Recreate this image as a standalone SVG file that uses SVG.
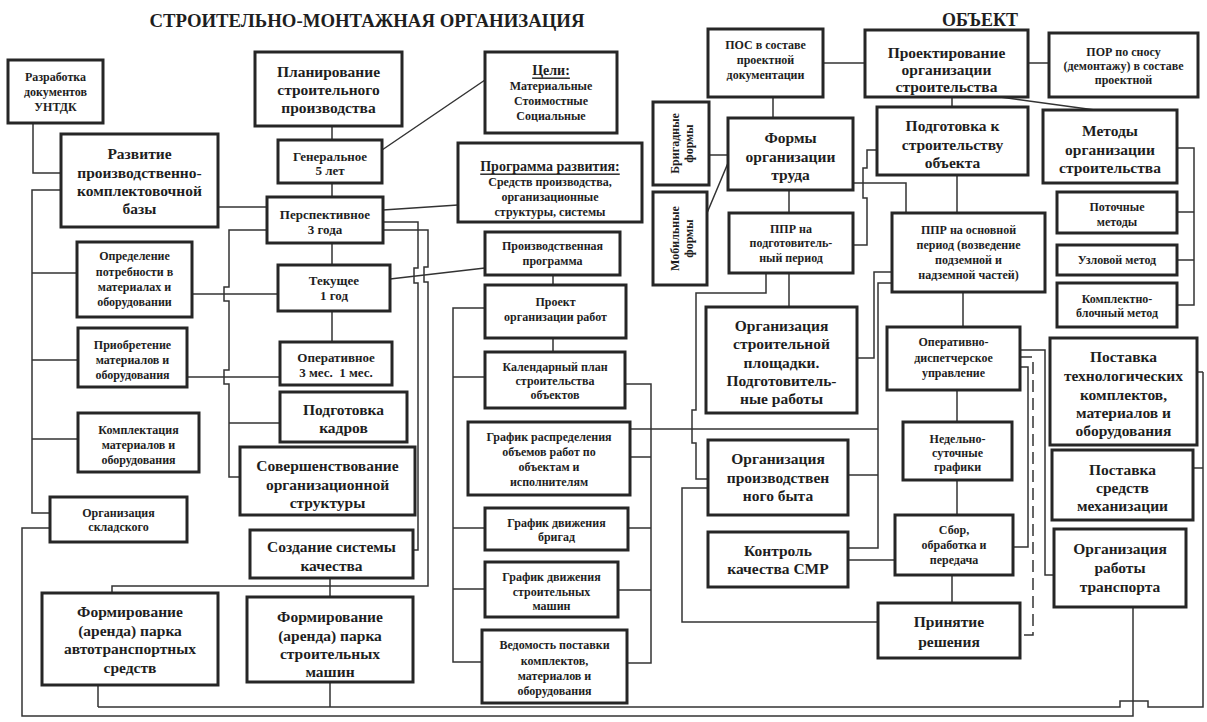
<svg xmlns="http://www.w3.org/2000/svg" width="1207" height="722" viewBox="0 0 1207 722">
<style>
.b{fill:#fff;stroke:#262626;stroke-width:3}
.c{fill:none;stroke:#333;stroke-width:1.5}
.d{fill:none;stroke:#333;stroke-width:1.5;stroke-dasharray:12 6}
text{font-family:"Liberation Serif","DejaVu Serif",serif;font-weight:bold;fill:#1e1e1e;text-anchor:middle;dominant-baseline:central}
.s{font-size:12px}
.m{font-size:13px}
.l{font-size:15.5px}
.h{font-size:18px}
.u{font-size:14px;text-decoration:underline}
</style>
<rect width="1207" height="722" fill="#fff"/>
<text class="h" x="367" y="21" textLength="435" lengthAdjust="spacingAndGlyphs">СТРОИТЕЛЬНО-МОНТАЖНАЯ ОРГАНИЗАЦИЯ</text>
<text class="h" x="980" y="20" textLength="76" lengthAdjust="spacingAndGlyphs">ОБЪЕКТ</text>
<g id="connectors">
<path class="c" d="M33,123V173H61"/>
<path class="c" d="M61,190H32V513H50"/>
<path class="c" d="M32,273H77M32,360H78M32,439H78"/>
<path class="c" d="M218,207H267"/>
<path class="c" d="M192,294H278M187,377H280"/>
<path class="c" d="M267,230H229V287H224V301H229V370H224V384H229V477H240M229,423H280"/>
<path class="c" d="M332,126V140M332,183V197M332,243V265M332,311V342"/>
<path class="c" d="M382,150L485,80M383,210L458,205M390,279L485,268"/>
<path class="c" d="M553,275V285M553,338V352"/>
<path class="c" d="M383,222H418V268H414V283H418V550H413"/>
<path class="c" d="M383,230H428V267H424V282H428V586H112V593"/>
<path class="c" d="M330,578V597M330,682V707M98,685V707"/>
<path class="c" d="M485,308H453V662H482M453,377H485M453,528H485M453,589H485"/>
<path class="c" d="M625,384H651V663H627M630,457H651M628,528H651M618,590H651"/>
<path class="c" d="M630,429H878"/>
<path class="c" d="M823,63H865M1028,63H1049M773,97V118M709,155H728M707,213L728,163M789,190V213"/>
<path class="c" d="M853,183H906V213"/>
<path class="c" d="M853,245H867V198H863V168H867V150H877"/>
<path class="c" d="M952,97V107M1000,97L1095,110"/>
<path class="c" d="M1177,148H1194V305H1177M1177,212H1194M1177,260H1194"/>
<path class="c" d="M957,175V213M963,292V327M957,390V422M957,480V515M952,575V603"/>
<path class="c" d="M789,273V307"/>
<path class="c" d="M766,273V293H696V410H692V443H696V479H708"/>
<path class="c" d="M857,358H874V272H892"/>
<path class="c" d="M892,283H878V548H848M848,475H878"/>
<path class="c" d="M848,560H895"/>
<path class="c" d="M708,488H682V622H878"/>
<path class="c" d="M1020,350H1045V575H1054"/>
<path class="c" d="M1020,367H1028V547H1013"/>
<path class="d" d="M1020,357H1033V635H1020"/>
<path class="c" d="M1197,372H1203M1193,468H1203"/>
<path class="c" d="M1203,372V707H1148V701H1120V707H98"/>
<path class="c" d="M1133,607V716H22V528H50"/>
</g>
<g id="n-untdk"><rect class="b" x="8" y="60" width="95" height="63"/><text class="s" x="55.5" y="77">Разработка</text><text class="s" x="55.5" y="92">документов</text><text class="s" x="55.5" y="107">УНТДК</text></g>
<g id="n-razvitie"><rect class="b" x="61" y="134" width="157" height="93"/><text class="l" x="139.5" y="153">Развитие</text><text class="l" x="139.5" y="172">производственно-</text><text class="l" x="139.5" y="190">комплектовочной</text><text class="l" x="139.5" y="208">базы</text></g>
<g id="n-opred"><rect class="b" x="77" y="242" width="115" height="75"/><text class="s" x="134.5" y="256">Определение</text><text class="s" x="134.5" y="272">потребности в</text><text class="s" x="134.5" y="287">материалах и</text><text class="s" x="134.5" y="302">оборудовании</text></g>
<g id="n-priobr"><rect class="b" x="78" y="328" width="109" height="59"/><text class="s" x="132.5" y="345">Приобретение</text><text class="s" x="132.5" y="360">материалов и</text><text class="s" x="132.5" y="375">оборудования</text></g>
<g id="n-komplekt"><rect class="b" x="78" y="413" width="121" height="59"/><text class="s" x="138.5" y="430">Комплектация</text><text class="s" x="138.5" y="445">материалов и</text><text class="s" x="138.5" y="460">оборудования</text></g>
<g id="n-sklad"><rect class="b" x="50" y="497" width="137" height="45"/><text class="s" x="118.5" y="513">Организация</text><text class="s" x="118.5" y="527">складского</text></g>
<g id="n-avto"><rect class="b" x="42" y="593" width="176" height="92"/><text class="l" x="130" y="611">Формирование</text><text class="l" x="130" y="630">(аренда) парка</text><text class="l" x="130" y="648">автотранспортных</text><text class="l" x="130" y="667">средств</text></g>
<g id="n-plan"><rect class="b" x="255" y="52" width="147" height="74"/><text class="l" x="328.5" y="71">Планирование</text><text class="l" x="328.5" y="89">строительного</text><text class="l" x="328.5" y="107">производства</text></g>
<g id="n-gen"><rect class="b" x="278" y="140" width="104" height="43"/><text class="m" x="330" y="156">Генеральное</text><text class="m" x="330" y="170">5 лет</text></g>
<g id="n-persp"><rect class="b" x="267" y="197" width="116" height="46"/><text class="m" x="325" y="214">Перспективное</text><text class="m" x="325" y="229">3 года</text></g>
<g id="n-tek"><rect class="b" x="278" y="265" width="112" height="46"/><text class="m" x="334" y="280">Текущее</text><text class="m" x="334" y="295">1 год</text></g>
<g id="n-oper"><rect class="b" x="280" y="342" width="112" height="43"/><text class="m" x="336" y="357">Оперативное</text><text class="m" x="336" y="372" xml:space="preserve">3 мес.  1 мес.</text></g>
<g id="n-kadry"><rect class="b" x="280" y="392" width="127" height="50"/><text class="l" x="343.5" y="409">Подготовка</text><text class="l" x="343.5" y="427">кадров</text></g>
<g id="n-soversh"><rect class="b" x="240" y="447" width="175" height="68"/><text class="l" x="327.5" y="465">Совершенствование</text><text class="l" x="327.5" y="484">организационной</text><text class="l" x="327.5" y="502">структуры</text></g>
<g id="n-kach"><rect class="b" x="250" y="530" width="163" height="48"/><text class="l" x="331.5" y="546">Создание системы</text><text class="l" x="331.5" y="565">качества</text></g>
<g id="n-mash"><rect class="b" x="247" y="597" width="166" height="85"/><text class="l" x="330" y="616">Формирование</text><text class="l" x="330" y="635">(аренда) парка</text><text class="l" x="330" y="653">строительных</text><text class="l" x="330" y="671">машин</text></g>
<g id="n-celi"><rect class="b" x="485" y="52" width="132" height="81"/><text class="u" x="551" y="70">Цели:</text><text class="s" x="551" y="86">Материальные</text><text class="s" x="551" y="101">Стоимостные</text><text class="s" x="551" y="116">Социальные</text></g>
<g id="n-prog"><rect class="b" x="458" y="143" width="184" height="79"/><text class="u" x="550" y="166">Программа развития:</text><text class="s" x="550" y="182">Средств производства,</text><text class="s" x="550" y="197">организационные</text><text class="s" x="550" y="212">структуры, системы</text></g>
<g id="n-proizv"><rect class="b" x="485" y="232" width="135" height="43"/><text class="s" x="552.5" y="246">Производственная</text><text class="s" x="552.5" y="261">программа</text></g>
<g id="n-proekt"><rect class="b" x="485" y="285" width="141" height="53"/><text class="s" x="555.5" y="302">Проект</text><text class="s" x="555.5" y="317">организации работ</text></g>
<g id="n-kalend"><rect class="b" x="485" y="352" width="140" height="56"/><text class="s" x="555" y="367">Календарный план</text><text class="s" x="555" y="381">строительства</text><text class="s" x="555" y="395">объектов</text></g>
<g id="n-raspr"><rect class="b" x="468" y="422" width="162" height="73"/><text class="s" x="549" y="437">График распределения</text><text class="s" x="549" y="452">объемов работ по</text><text class="s" x="549" y="467">объектам и</text><text class="s" x="549" y="482">исполнителям</text></g>
<g id="n-brig"><rect class="b" x="485" y="508" width="143" height="42"/><text class="s" x="556.5" y="523">График движения</text><text class="s" x="556.5" y="537">бригад</text></g>
<g id="n-mashgr"><rect class="b" x="485" y="562" width="133" height="55"/><text class="s" x="551.5" y="577">График движения</text><text class="s" x="551.5" y="592">строительных</text><text class="s" x="551.5" y="606">машин</text></g>
<g id="n-vedom"><rect class="b" x="482" y="630" width="145" height="73"/><text class="s" x="554.5" y="645">Ведомость поставки</text><text class="s" x="554.5" y="661">комплектов,</text><text class="s" x="554.5" y="676">материалов и</text><text class="s" x="554.5" y="691">оборудования</text></g>
<g id="n-pos"><rect class="b" x="708" y="29" width="115" height="68"/><text class="s" x="765.5" y="45">ПОС в составе</text><text class="s" x="765.5" y="60">проектной</text><text class="s" x="765.5" y="75">документации</text></g>
<g id="n-proekt-org"><rect class="b" x="865" y="30" width="163" height="67"/><text class="l" x="946.5" y="52">Проектирование</text><text class="l" x="946.5" y="69">организации</text><text class="l" x="946.5" y="86">строительства</text></g>
<g id="n-por"><rect class="b" x="1049" y="33" width="149" height="64"/><text class="s" x="1123.5" y="52">ПОР по сносу</text><text class="s" x="1123.5" y="66">(демонтажу) в составе</text><text class="s" x="1123.5" y="80">проектной</text></g>
<g id="n-brigf"><rect class="b" x="653" y="102" width="56" height="83"/><g transform="translate(681,143.5) rotate(-90)"><text class="s" x="0" y="-6">Бригадные</text><text class="s" x="0" y="8">формы</text></g></g>
<g id="n-mobf"><rect class="b" x="653" y="192" width="54" height="93"/><g transform="translate(681,238.5) rotate(-90)"><text class="s" x="0" y="-6">Мобильные</text><text class="s" x="0" y="8">формы</text></g></g>
<g id="n-formy"><rect class="b" x="728" y="118" width="125" height="72"/><text class="l" x="790.5" y="137">Формы</text><text class="l" x="790.5" y="156">организации</text><text class="l" x="790.5" y="174">труда</text></g>
<g id="n-pprp"><rect class="b" x="729" y="213" width="124" height="60"/><text class="s" x="791" y="229">ППР на</text><text class="s" x="791" y="243">подготовитель-</text><text class="s" x="791" y="258">ный период</text></g>
<g id="n-podg"><rect class="b" x="877" y="107" width="151" height="68"/><text class="l" x="952.5" y="125">Подготовка к</text><text class="l" x="952.5" y="144">строительству</text><text class="l" x="952.5" y="162">объекта</text></g>
<g id="n-metody"><rect class="b" x="1043" y="110" width="134" height="73"/><text class="l" x="1110" y="130">Методы</text><text class="l" x="1110" y="149">организации</text><text class="l" x="1110" y="167">строительства</text></g>
<g id="n-potoch"><rect class="b" x="1057" y="192" width="120" height="41"/><text class="s" x="1117" y="207">Поточные</text><text class="s" x="1117" y="222">методы</text></g>
<g id="n-uzl"><rect class="b" x="1057" y="245" width="120" height="30"/><text class="s" x="1117" y="260">Узловой метод</text></g>
<g id="n-kompl"><rect class="b" x="1057" y="283" width="120" height="44"/><text class="s" x="1117" y="299">Комплектно-</text><text class="s" x="1117" y="313">блочный метод</text></g>
<g id="n-ppro"><rect class="b" x="892" y="213" width="153" height="79"/><text class="s" x="968.5" y="230">ППР на основной</text><text class="s" x="968.5" y="245">период (возведение</text><text class="s" x="968.5" y="260">подземной и</text><text class="s" x="968.5" y="275">надземной частей)</text></g>
<g id="n-plosh"><rect class="b" x="706" y="307" width="151" height="106"/><text class="l" x="781.5" y="325">Организация</text><text class="l" x="781.5" y="343">строительной</text><text class="l" x="781.5" y="362">площадки.</text><text class="l" x="781.5" y="380">Подготовитель-</text><text class="l" x="781.5" y="398">ные работы</text></g>
<g id="n-operd"><rect class="b" x="887" y="327" width="133" height="63"/><text class="s" x="953.5" y="342">Оперативно-</text><text class="s" x="953.5" y="358">диспетчерское</text><text class="s" x="953.5" y="373">управление</text></g>
<g id="n-nedel"><rect class="b" x="903" y="422" width="109" height="58"/><text class="s" x="957.5" y="439">Недельно-</text><text class="s" x="957.5" y="453">суточные</text><text class="s" x="957.5" y="467">графики</text></g>
<g id="n-postt"><rect class="b" x="1050" y="338" width="147" height="107"/><text class="l" x="1123.5" y="356">Поставка</text><text class="l" x="1123.5" y="375">технологических</text><text class="l" x="1123.5" y="394">комплектов,</text><text class="l" x="1123.5" y="412">материалов и</text><text class="l" x="1123.5" y="430">оборудования</text></g>
<g id="n-byt"><rect class="b" x="708" y="440" width="140" height="75"/><text class="l" x="778" y="458">Организация</text><text class="l" x="778" y="477">производствен</text><text class="l" x="778" y="495">ного быта</text></g>
<g id="n-posts"><rect class="b" x="1052" y="450" width="141" height="70"/><text class="l" x="1122.5" y="469">Поставка</text><text class="l" x="1122.5" y="487">средств</text><text class="l" x="1122.5" y="505">механизации</text></g>
<g id="n-sbor"><rect class="b" x="895" y="515" width="118" height="60"/><text class="s" x="954" y="530">Сбор,</text><text class="s" x="954" y="545">обработка и</text><text class="s" x="954" y="560">передача</text></g>
<g id="n-kontr"><rect class="b" x="708" y="532" width="140" height="55"/><text class="l" x="778" y="550">Контроль</text><text class="l" x="778" y="568">качества СМР</text></g>
<g id="n-transp"><rect class="b" x="1054" y="529" width="132" height="78"/><text class="l" x="1120" y="548">Организация</text><text class="l" x="1120" y="567">работы</text><text class="l" x="1120" y="586">транспорта</text></g>
<g id="n-prin"><rect class="b" x="878" y="603" width="142" height="55"/><text class="l" x="949" y="621">Принятие</text><text class="l" x="949" y="641">решения</text></g>
</svg>
